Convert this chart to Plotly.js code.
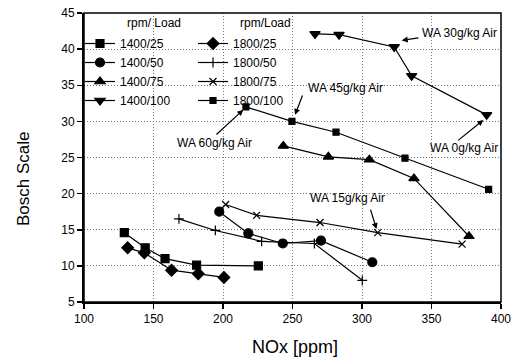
<!DOCTYPE html>
<html>
<head>
<meta charset="utf-8">
<script src="https://cdn.plot.ly/plotly-3.0.1.min.js"></script>
<style>
  html, body { margin: 0; padding: 0; background: #fff; }
  #chart { width: 524px; height: 362px; }
</style>
</head>
<body>
<div id="chart"></div>
<script>
// Smoke opacity (Bosch scale) against NOx emissions for each speed/load setting
const seriesNames = ['1400/25', '1400/50', '1400/75', '1400/100', '1800/25', '1800/50', '1800/75', '1800/100'];

const nox_1400_25  = [129, 144, 158.3, 181, 225.4];
const bosch_1400_25 = [14.6, 12.5, 11.0, 10.1, 10.0];
const nox_1400_50  = [197.3, 218.2, 243, 270.5, 307.4];
const bosch_1400_50 = [17.5, 14.5, 13.1, 13.5, 10.5];
const nox_1400_75  = [243.4, 275.8, 305.3, 337.4, 377];
const bosch_1400_75 = [26.6, 25.1, 24.7, 22.1, 14.1];
const nox_1400_100 = [266.2, 283.5, 323.2, 335.7, 389.7];
const bosch_1400_100 = [42.1, 42.0, 40.3, 36.3, 30.9];

const nox_1800_25  = [131.4, 143.4, 163, 182.2, 200.7];
const bosch_1800_25 = [12.5, 11.8, 9.4, 8.9, 8.4];
const nox_1800_50  = [168.3, 194.5, 227.8, 265.7, 300.2];
const bosch_1800_50 = [16.5, 14.9, 13.4, 13.1, 8.0];
const nox_1800_75  = [201.9, 224.2, 269.8, 311.3, 372];
const bosch_1800_75 = [18.5, 17.0, 16.0, 14.6, 13.0];
const nox_1800_100 = [216.5, 249.6, 281.3, 330.9, 391.1];
const bosch_1800_100 = [32.0, 30.0, 28.5, 24.9, 20.6];

// Water addition labels: text, label anchor, arrow tail and arrow head (data units)
const waLabels = ['WA 30g/kg Air', 'WA 45g/kg Air', 'WA 60g/kg Air', 'WA 0g/kg Air', 'WA 15g/kg Air'];
const waTextX = [342, 259.7, 165.5, 347.5, 261];
const waTextY = [42.2, 34.6, 27.0, 26.3, 19.4];
const waTailX = [341.7, 257.6, 194.2, 368.1, 305.8];
const waTailY = [41.6, 33.8, 28.0, 27.2, 18.0];
const waHeadX = [328.6, 251.8, 214.6, 387.3, 310.4];
const waHeadY = [41.2, 30.9, 31.6, 30.2, 15.1];

const FONT = '"Liberation Sans Narrow", "Arial Narrow", "Liberation Sans", Arial, sans-serif';

function series(x, y, name, symbol, size, legend) {
  return {
    x: x, y: y, name: name, type: 'scatter', mode: 'lines+markers',
    line: { color: '#000', width: 1.2 },
    marker: { symbol: symbol, size: size, color: '#000', line: { color: '#000', width: 1.2 } },
    legend: legend
  };
}

const traces = [
  series(nox_1400_25, bosch_1400_25, seriesNames[0], 'square', 8, 'legend'),
  series(nox_1400_50, bosch_1400_50, seriesNames[1], 'circle', 9, 'legend'),
  series(nox_1400_75, bosch_1400_75, seriesNames[2], 'triangle-up', 9, 'legend'),
  series(nox_1400_100, bosch_1400_100, seriesNames[3], 'triangle-down', 9, 'legend'),
  series(nox_1800_25, bosch_1800_25, seriesNames[4], 'diamond', 9, 'legend2'),
  series(nox_1800_50, bosch_1800_50, seriesNames[5], 'cross-thin', 7, 'legend2'),
  series(nox_1800_75, bosch_1800_75, seriesNames[6], 'x-thin', 7, 'legend2'),
  series(nox_1800_100, bosch_1800_100, seriesNames[7], 'square', 6, 'legend2')
];

const annotations = [];
for (let i = 0; i < waLabels.length; i++) {
  annotations.push({
    x: waTextX[i], y: waTextY[i], xref: 'x', yref: 'y',
    text: waLabels[i], showarrow: false, xanchor: 'left', yanchor: 'middle',
    font: { family: FONT, size: 12, color: '#000' }
  });
  annotations.push({
    x: waHeadX[i], y: waHeadY[i], xref: 'x', yref: 'y',
    ax: waTailX[i], ay: waTailY[i], axref: 'x', ayref: 'y',
    text: '', showarrow: true, arrowhead: 2, arrowsize: 1, arrowwidth: 1.2, arrowcolor: '#000'
  });
}
// legend column headings
annotations.push({ x: 125, y: 23, xref: 'paper', yref: 'paper', text: 'rpm/ Load', showarrow: false,
  xanchor: 'left', yanchor: 'middle', font: { family: FONT, size: 12, color: '#000' } });
annotations.push({ x: 238, y: 23, xref: 'paper', yref: 'paper', text: 'rpm/Load', showarrow: false,
  xanchor: 'left', yanchor: 'middle', font: { family: FONT, size: 12, color: '#000' } });
// axis titles
annotations.push({ x: 295, y: 347, text: 'NOx [ppm]', showarrow: false, xanchor: 'center', yanchor: 'middle',
  font: { family: FONT, size: 18, color: '#000' } });
annotations.push({ x: 24, y: 179, text: 'Bosch Scale', showarrow: false, textangle: -90, xanchor: 'center', yanchor: 'middle',
  font: { family: FONT, size: 17, color: '#000' } });

// convert pixel-placed items to paper coordinates
const W = 524, H = 362, L = 84, R = 23, T = 13, B = 60;
const pw = W - L - R, ph = H - T - B;
annotations.forEach(a => {
  if (a.xref === undefined) { a.xref = 'paper'; a.yref = 'paper'; a.x = (a.x - L) / pw; a.y = (H - B - a.y) / ph; }
  else if (a.xref === 'paper') { a.x = (a.x - L) / pw; a.y = (H - B - a.y) / ph; }
});

const axisCommon = {
  showline: true, linecolor: '#000', linewidth: 2, mirror: false,
  ticks: 'outside', ticklen: 5, tickwidth: 1.5, tickcolor: '#000',
  showgrid: true, gridcolor: '#777', griddash: '1px,2px', gridwidth: 1,
  zeroline: false,
  tickfont: { family: FONT, size: 12, color: '#000' }
};

const legendCommon = {
  xanchor: 'left', yanchor: 'top',
  bgcolor: 'rgba(0,0,0,0)', borderwidth: 0, tracegroupgap: 0,
  font: { family: FONT, size: 12, color: '#000' }, itemwidth: 30
};

const layout = {
  width: W, height: H,
  margin: { l: L, r: R, t: T, b: B },
  paper_bgcolor: '#fff', plot_bgcolor: '#fff',
  font: { family: FONT, color: '#000' },
  xaxis: Object.assign({}, axisCommon, { range: [100, 400], dtick: 50, tick0: 100 }),
  yaxis: Object.assign({}, axisCommon, { range: [5, 45], dtick: 5, tick0: 5 }),
  legend: Object.assign({}, legendCommon, { x: (80 - L) / pw, y: (H - B - 29) / ph }),
  legend2: Object.assign({}, legendCommon, { x: (193 - L) / pw, y: (H - B - 29) / ph }),
  shapes: [{ type: 'rect', xref: 'paper', yref: 'paper', x0: 0, y0: 0, x1: 1, y1: 1,
    line: { color: '#000', width: 1.5 }, fillcolor: 'rgba(0,0,0,0)' }],
  annotations: annotations,
  showlegend: true
};

Plotly.newPlot('chart', traces, layout, { displayModeBar: false, staticPlot: true });
</script>
</body>
</html>
